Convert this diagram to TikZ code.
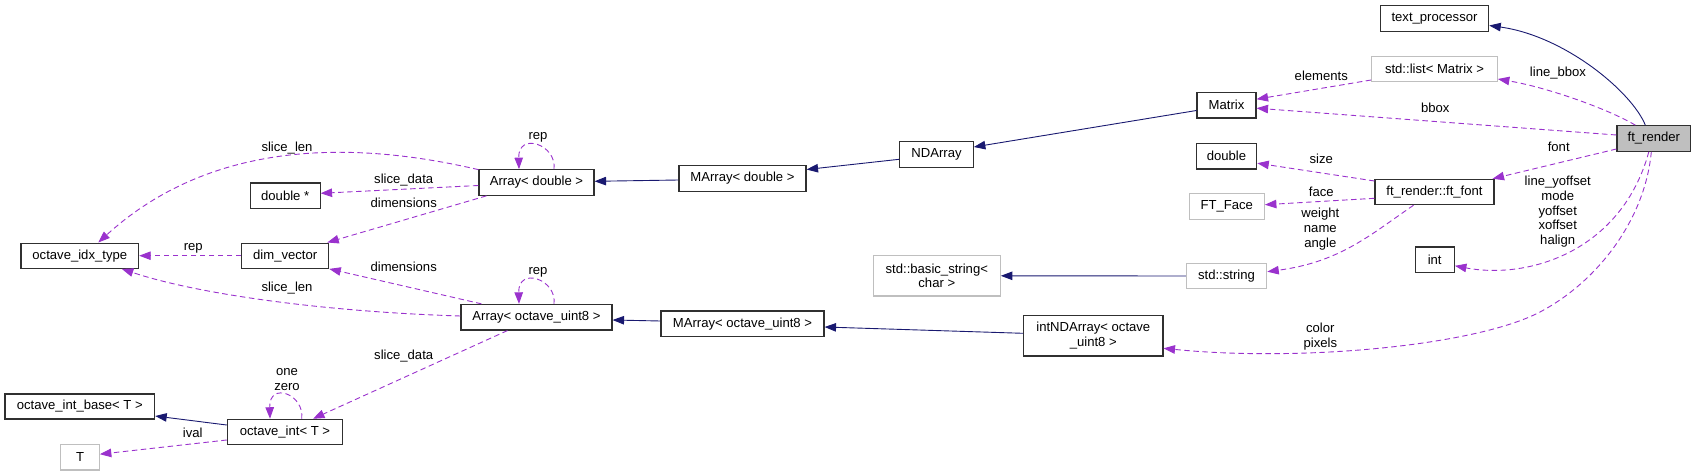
\documentclass[tikz,border=0pt]{standalone}
\usepackage{fontspec}
\setmainfont{Liberation Sans}
\usetikzlibrary{arrows.meta,calc}
\definecolor{inhc}{HTML}{191970}
\definecolor{usec}{HTML}{9A32CD}
\definecolor{greyb}{HTML}{BFBFBF}
\definecolor{boxb}{HTML}{303030}
\newcommand\fsz{\fontsize{13.1}{14.7}\selectfont}
\tikzset{
  cls/.style={draw=boxb, line width=1.1pt, inner sep=0pt, minimum height=25.6pt, font=\fsz, align=center},
  ext/.style={cls, draw=greyb},
  inh/.style={draw=inhc, line width=0.9pt, -{Triangle[length=11.5pt,width=8.5pt]}},
  use/.style={draw=usec, line width=0.9pt, dash pattern=on 5.5pt off 3.5pt, -{Triangle[length=11.5pt,width=8.5pt]}},
  lbl/.style={inner sep=0pt, font=\fsz, align=center}
}
\begin{document}
\begin{tikzpicture}[x=1pt,y=-1pt]
\useasboundingbox (0,0) rectangle (1696,476);
% nodes
\node[cls, minimum width=108.4pt] (tp) at (1434.5,18.5) {text\_processor};
\node[ext, minimum width=125.6pt, minimum height=25.3pt] (lst) at (1434.5,69.3) {std::list< Matrix >};
\node[cls, minimum width=59pt] (mat) at (1226.5,105.2) {Matrix};
\node[cls, fill=greyb, minimum width=73.7pt] (ftr) at (1653.8,138.5) {ft\_render};
\node[cls, minimum width=73.6pt] (nda) at (936.5,154.5) {NDArray};
\node[cls, minimum width=60.4pt] (dbl) at (1226.5,156.2) {double};
\node[cls, minimum width=119pt, minimum height=25.4pt] (ftf) at (1434.5,192) {ft\_render::ft\_font};
\node[ext, minimum width=75.3pt] (ftface) at (1226.7,206.5) {FT\_Face};
\node[cls, minimum width=127pt] (mad) at (742.5,178.5) {MArray< double >};
\node[cls, minimum width=115pt] (ard) at (536.5,182.5) {Array< double >};
\node[cls, minimum width=69.7pt] (dblp) at (285.2,195.8) {double *};
\node[cls, minimum width=117.7pt, minimum height=25.3pt] (oit) at (79.8,255.7) {octave\_idx\_type};
\node[cls, minimum width=87pt, minimum height=25.3pt] (dv) at (285.2,255.7) {dim\_vector};
\node[ext, minimum width=127pt, minimum height=40.3pt] (bstr) at (936.8,275.8) {std::basic\_string<\\char >};
\node[ext, minimum width=80.4pt, minimum height=25.4pt] (str) at (1226.5,276) {std::string};
\node[cls, minimum width=39.3pt] (int) at (1434.7,259.8) {int};
\node[cls, minimum width=151pt] (au8) at (536.5,317.2) {Array< octave\_uint8 >};
\node[cls, minimum width=163pt] (mau8) at (742.5,323.8) {MArray< octave\_uint8 >};
\node[cls, minimum width=139.3pt, minimum height=40.3pt] (ind) at (1093.3,335.8) {intNDArray< octave\\\_uint8 >};
\node[cls, minimum width=149.7pt, minimum height=25pt] (oib) at (79.8,406.5) {octave\_int\_base< T >};
\node[cls, minimum width=115.4pt, minimum height=25.4pt] (oi) at (285,432) {octave\_int< T >};
\node[ext, minimum width=38.6pt] (T) at (80,457.2) {T};
% inheritance
\draw[inh] ($(ftr.north)+(-8.5,0)$) .. controls (1632,92) and (1565,36) .. ($(tp.east)+(0,7)$);
\draw[inh] ($(mat.west)+(0,5.3)$) -- ($(nda.east)+(0,-7.5)$);
\draw[inh] ($(nda.west)+(0,4.8)$) -- ($(mad.east)+(0,-9)$);
\draw[inh] ($(mad.west)+(0,1.5)$) -- ($(ard.east)+(0,-1.2)$);
\draw[inh] (str.west) -- (bstr.east);
\draw[inh] ($(ind.west)+(0,-2.5)$) -- ($(mau8.east)+(0,3.2)$);
\draw[inh] ($(mau8.west)+(0,-2.8)$) -- ($(au8.east)+(0,2.8)$);
\draw[inh] ($(oi.west)+(0,-7)$) -- ($(oib.east)+(0,9.5)$);
% usage
\draw[use] ($(lst.west)+(0,10.7)$) -- ($(mat.east)+(0,-6)$);
\draw[use] ($(ftr.north)+(-18.5,0)$) .. controls (1610,110) and (1550,88) .. ($(lst.east)+(0,9.7)$);
\draw[use] ($(ftr.west)+(0,-3.5)$) -- ($(mat.east)+(0,3)$);
\draw[use] ($(ftr.west)+(0,10.5)$) -- ($(ftf.north east)+(-2,0)$);
\draw[use] ($(ftf.west)+(0,-11)$) -- ($(dbl.east)+(0,7)$);
\draw[use] ($(ftf.west)+(0,6.3)$) -- ($(ftface.east)+(0,-1.8)$);
\draw[use] ($(ftf.south)+(-21,0)$) .. controls (1370,235) and (1340,262) .. ($(str.east)+(0,-4.3)$);
\draw[use] ($(ftr.south)+(-5,0)$) .. controls (1622,250) and (1530,280) .. ($(int.east)+(0,6)$);
\draw[use] ($(ftr.south)+(-2.5,0)$) .. controls (1645,220) and (1597,282) .. (1540,312)
  .. controls (1475,346) and (1300,362) .. ($(ind.east)+(0,12.5)$);
\draw[use] ($(ard.north)+(17.5,0)$) .. controls ($(ard.north)+(20.5,-24.7)$) and ($(ard.north)+(-18.5,-37.7)$) .. ($(ard.north)+(-17.5,0)$);
\draw[use] ($(ard.north west)+(0,0.5)$) .. controls (330,135) and (200,150) .. ($(oit.north)+(18.5,0)$);
\draw[use] ($(ard.west)+(0,3)$) -- ($(dblp.east)+(0,-2.5)$);
\draw[use] ($(ard.south west)+(8,0)$) -- ($(dv.north east)+(-2,0)$);
\draw[use] (dv.west) -- (oit.east);
\draw[use] ($(au8.north west)+(21,0)$) -- (dv.south east);
\draw[use] ($(au8.west)+(0,-1.2)$) .. controls (330,312) and (200,295) .. ($(oit.south)+(42,0)$);
\draw[use] ($(au8.north)+(17.5,0)$) .. controls ($(au8.north)+(20.5,-24.7)$) and ($(au8.north)+(-18.5,-37.7)$) .. ($(au8.north)+(-17.5,0)$);
\draw[use] ($(au8.south)+(-29,0)$) -- ($(oi.north)+(28,0)$);
\draw[use] ($(oi.north)+(16.7,0)$) .. controls ($(oi.north)+(19.7,-24.7)$) and ($(oi.north)+(-16,-37.7)$) .. ($(oi.north)+(-15,0)$);
\draw[use] ($(oi.west)+(0,8)$) -- ($(T.east)+(0,-3)$);
% labels
\node[lbl] (lelem) at (1321.3,76) {elements};
\node[lbl] (llbb) at (1558,72.7) {line\_bbox};
\node[lbl] (lbbox) at (1435.3,107.7) {bbox};
\node[lbl] (lfont) at (1558.7,146.7) {font};
\node[lbl] (lsize) at (1321.3,158.7) {size};
\node[lbl] (lface) at (1321.3,191.7) {face};
\node[lbl] (lwna) at (1320.3,229.2) {weight\\name\\angle};
\node[lbl] (lly) at (1557.7,211.7) {line\_yoffset\\mode\\yoffset\\xoffset\\halign};
\node[lbl] (lcp) at (1320.3,336.3) {color\\pixels};
\node[lbl] (lrepa) at (538,137) {rep};
\node[lbl] (lsla) at (287,148) {slice\_len};
\node[lbl] (lsda) at (403.7,180) {slice\_data};
\node[lbl] (ldima) at (403.7,203.3) {dimensions};
\node[lbl] (lrepb) at (193.3,248.3) {rep};
\node[lbl] (ldimb) at (403.7,266.7) {dimensions};
\node[lbl] (lrepc) at (538,272.3) {rep};
\node[lbl] (lslb) at (287,287.7) {slice\_len};
\node[lbl] (lsdb) at (403.7,356) {slice\_data};
\node[lbl] (loz) at (287,379.2) {one\\zero};
\node[lbl] (lival) at (192.7,432.7) {ival};
\end{tikzpicture}
\end{document}
